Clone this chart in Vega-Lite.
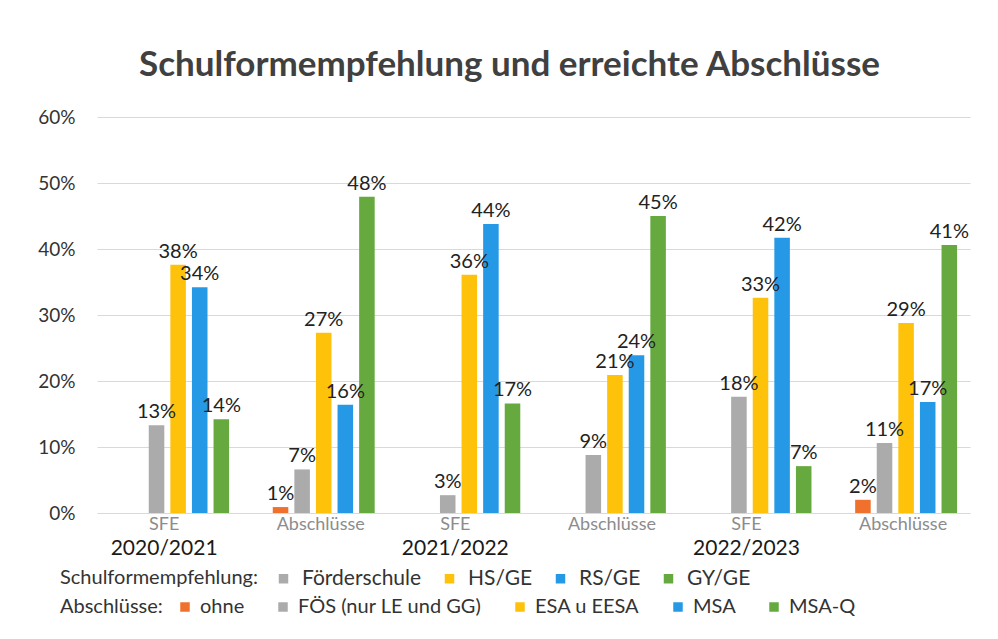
{
  "$schema": "https://vega.github.io/schema/vega-lite/v6.json",
  "width": 873,
  "height": 396,
  "autosize": {"type": "none"},
  "padding": {"left": 97, "top": 117, "right": 28, "bottom": 126},
  "background": "white",
  "title": {
    "text": "Schulformempfehlung und erreichte Abschlüsse",
    "font": "Lato",
    "fontSize": 35,
    "fontWeight": "bold",
    "color": "#404040",
    "anchor": "middle",
    "dx": -24,
    "offset": 25
  },
  "data": {
    "values": [
      {"group": "SFE|2020/2021", "kind": "SFE", "slot": 2, "cat": "Förderschule", "value": 0.133},
      {"group": "SFE|2020/2021", "kind": "SFE", "slot": 3, "cat": "HS/GE", "value": 0.376},
      {"group": "SFE|2020/2021", "kind": "SFE", "slot": 4, "cat": "RS/GE", "value": 0.342},
      {"group": "SFE|2020/2021", "kind": "SFE", "slot": 5, "cat": "GY/GE", "value": 0.142},
      {"group": "Abschlüsse|2020/2021", "kind": "ABS", "slot": 1, "cat": "ohne", "value": 0.009},
      {"group": "Abschlüsse|2020/2021", "kind": "ABS", "slot": 2, "cat": "FÖS (nur LE und GG)", "value": 0.066},
      {"group": "Abschlüsse|2020/2021", "kind": "ABS", "slot": 3, "cat": "ESA u EESA", "value": 0.273},
      {"group": "Abschlüsse|2020/2021", "kind": "ABS", "slot": 4, "cat": "MSA", "value": 0.164},
      {"group": "Abschlüsse|2020/2021", "kind": "ABS", "slot": 5, "cat": "MSA-Q", "value": 0.479},
      {"group": "SFE|2021/2022", "kind": "SFE", "slot": 2, "cat": "Förderschule", "value": 0.027},
      {"group": "SFE|2021/2022", "kind": "SFE", "slot": 3, "cat": "HS/GE", "value": 0.361},
      {"group": "SFE|2021/2022", "kind": "SFE", "slot": 4, "cat": "RS/GE", "value": 0.438},
      {"group": "SFE|2021/2022", "kind": "SFE", "slot": 5, "cat": "GY/GE", "value": 0.166},
      {"group": "Abschlüsse|2021/2022", "kind": "ABS", "slot": 2, "cat": "FÖS (nur LE und GG)", "value": 0.088},
      {"group": "Abschlüsse|2021/2022", "kind": "ABS", "slot": 3, "cat": "ESA u EESA", "value": 0.209},
      {"group": "Abschlüsse|2021/2022", "kind": "ABS", "slot": 4, "cat": "MSA", "value": 0.239},
      {"group": "Abschlüsse|2021/2022", "kind": "ABS", "slot": 5, "cat": "MSA-Q", "value": 0.45},
      {"group": "SFE|2022/2023", "kind": "SFE", "slot": 2, "cat": "Förderschule", "value": 0.176},
      {"group": "SFE|2022/2023", "kind": "SFE", "slot": 3, "cat": "HS/GE", "value": 0.326},
      {"group": "SFE|2022/2023", "kind": "SFE", "slot": 4, "cat": "RS/GE", "value": 0.417},
      {"group": "SFE|2022/2023", "kind": "SFE", "slot": 5, "cat": "GY/GE", "value": 0.071},
      {"group": "Abschlüsse|2022/2023", "kind": "ABS", "slot": 1, "cat": "ohne", "value": 0.02},
      {"group": "Abschlüsse|2022/2023", "kind": "ABS", "slot": 2, "cat": "FÖS (nur LE und GG)", "value": 0.106},
      {"group": "Abschlüsse|2022/2023", "kind": "ABS", "slot": 3, "cat": "ESA u EESA", "value": 0.288},
      {"group": "Abschlüsse|2022/2023", "kind": "ABS", "slot": 4, "cat": "MSA", "value": 0.168},
      {"group": "Abschlüsse|2022/2023", "kind": "ABS", "slot": 5, "cat": "MSA-Q", "value": 0.406}
    ]
  },
  "resolve": {"axis": {"x": "independent"}},
  "layer": [
    {
      "transform": [{"filter": "datum.kind === 'SFE'"}],
      "mark": {"type": "bar"},
      "encoding": {
        "x": {
          "field": "group", "type": "nominal", "sort": null,
          "scale": {"domain": ["SFE|2020/2021", "Abschlüsse|2020/2021", "SFE|2021/2022", "Abschlüsse|2021/2022", "SFE|2022/2023", "Abschlüsse|2022/2023"], "paddingInner": 0.3, "paddingOuter": 0.148, "align": 0.7},
          "axis": {
            "orient": "bottom",
            "title": null, "domain": false, "ticks": false,
            "labelAngle": 0, "labelFont": "Lato", "labelFontSize": 18, "labelColor": "#8c8c8c",
            "labelPadding": 2,
            "labelOffset": {"condition": {"test": "indexof(datum.value, 'SFE') === 0", "value": -14}, "value": -3},
            "labelExpr": "split(datum.value, '|')[0]"
          }
        },
        "xOffset": {"field": "slot", "type": "ordinal", "scale": {"domain": [1, 2, 3, 4, 5], "paddingInner": 0.28, "paddingOuter": 0}},
        "y": {
          "field": "value", "type": "quantitative",
          "scale": {"domain": [0, 0.6], "nice": false},
          "axis": {
            "title": null, "format": ".0%", "values": [0, 0.1, 0.2, 0.3, 0.4, 0.5, 0.6],
            "domain": false, "ticks": false, "labelPadding": 22,
            "labelFont": "Lato", "labelFontSize": 19, "labelColor": "#333333",
            "gridColor": "#d9d9d9", "gridWidth": 1
          }
        },
        "fill": {
          "field": "cat", "type": "nominal",
          "scale": {"domain": ["Förderschule", "HS/GE", "RS/GE", "GY/GE"], "range": ["#ABABAB", "#FFC20A", "#2699E6", "#66AA3F"]},
          "legend": {
            "title": "Schulformempfehlung:", "orient": "none", "legendX": -37, "legendY": 451,
            "direction": "horizontal", "titleOrient": "left", "titleFont": "Lato", "titleFontSize": 20,
            "titleFontWeight": "normal", "titleColor": "#333333", "titlePadding": 14, "titleLimit": 400,
            "labelFont": "Lato", "labelFontSize": 21, "labelColor": "#333333", "labelOffset": 8, "labelLimit": 400,
            "symbolType": "square", "symbolSize": 90, "symbolStrokeWidth": 0, "columnPadding": 17
          }
        }
      }
    },
    {
      "transform": [{"filter": "datum.kind === 'ABS'"}],
      "mark": {"type": "bar"},
      "encoding": {
        "x": {"field": "group", "type": "nominal", "sort": null, "axis": null},
        "xOffset": {"field": "slot", "type": "ordinal", "scale": {"domain": [1, 2, 3, 4, 5], "paddingInner": 0.28, "paddingOuter": 0}},
        "y": {"field": "value", "type": "quantitative"},
        "color": {
          "field": "cat", "type": "nominal",
          "scale": {"domain": ["ohne", "FÖS (nur LE und GG)", "ESA u EESA", "MSA", "MSA-Q"], "range": ["#F0702E", "#ABABAB", "#FFC20A", "#2699E6", "#66AA3F"]},
          "legend": {
            "title": "Abschlüsse:", "orient": "none", "legendX": -37, "legendY": 480,
            "direction": "horizontal", "titleOrient": "left", "titleFont": "Lato", "titleFontSize": 20,
            "titleFontWeight": "normal", "titleColor": "#333333", "titlePadding": 12, "titleLimit": 400,
            "labelFont": "Lato", "labelFontSize": 20, "labelColor": "#333333", "labelOffset": 5, "labelLimit": 400,
            "symbolType": "square", "symbolSize": 90, "symbolStrokeWidth": 0, "columnPadding": 28
          }
        }
      }
    },
    {
      "mark": {"type": "text", "baseline": "bottom", "dy": -3, "font": "Lato", "fontSize": 20, "color": "#222222"},
      "encoding": {
        "x": {
          "field": "group", "type": "nominal", "sort": null,
          "axis": {
            "orient": "bottom",
            "title": null, "domain": false, "ticks": false, "labelAngle": 0,
            "labelFont": "Lato", "labelFontSize": 21, "labelColor": "#1a1a1a",
            "labelPadding": 24, "labelOffset": -14,
            "labelExpr": "indexof(datum.value, 'SFE') === 0 ? split(datum.value, '|')[1] : ''"
          }
        },
        "xOffset": {"field": "slot", "type": "ordinal", "scale": {"domain": [1, 2, 3, 4, 5], "paddingInner": 0.28, "paddingOuter": 0}},
        "y": {"field": "value", "type": "quantitative"},
        "text": {"field": "value", "type": "quantitative", "format": ".0%"}
      }
    }
  ],
  "config": {
    "view": {"stroke": null},
    "font": "Lato"
  }
}
